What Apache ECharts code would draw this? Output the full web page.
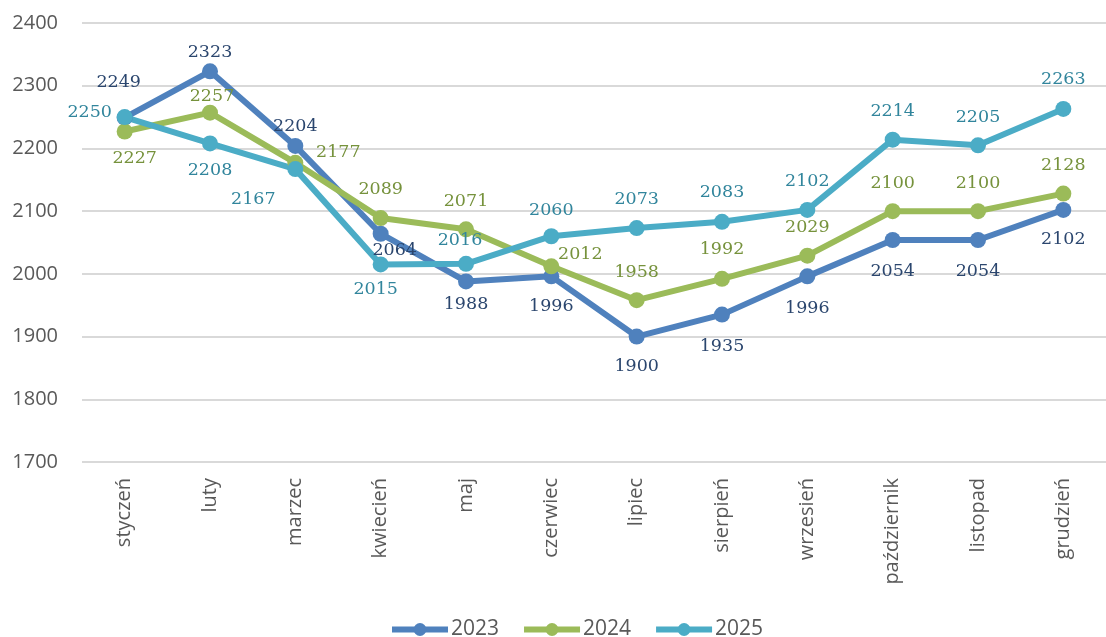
<!DOCTYPE html>
<html>
<head>
<meta charset="utf-8">
<script src="https://cdn.jsdelivr.net/npm/echarts@6/dist/echarts.min.js"></script>
<style>
html,body{margin:0;padding:0;background:#fff;}
#chart{width:1106px;height:637px;}
</style>
</head>
<body>
<div id="chart"></div>
<script>
const categories = ['styczeń','luty','marzec','kwiecień','maj','czerwiec','lipiec','sierpień','wrzesień','październik','listopad','grudzień'];
const seriesNames = ['2023','2024','2025'];
const values2023 = [2249, 2323, 2204, 2064, 1988, 1996, 1900, 1935, 1996, 2054, 2054, 2102];
const values2024 = [2227, 2257, 2177, 2089, 2071, 2012, 1958, 1992, 2029, 2100, 2100, 2128];
const values2025 = [2250, 2208, 2167, 2015, 2016, 2060, 2073, 2083, 2102, 2214, 2205, 2263];
const yTicks = [1700, 1800, 1900, 2000, 2100, 2200, 2300, 2400];

// label placement (styling): offsets in px relative to each point
const labelOffsets2023 = [[-6,-35],[0,-19],[0,-19],[14,17],[0,23],[0,30],[0,30],[0,32],[0,32],[0,31],[0,31],[0,30]];
const labelOffsets2024 = [[10,27],[2,-16],[43,-10],[0,-29],[0,-28],[29,-12],[0,-28],[0,-29],[0,-28],[0,-28],[0,-28],[0,-28]];
const labelOffsets2025 = [[-35,-5],[0,27],[-42,30],[-5,25],[-6,-23],[0,-26],[0,-29],[0,-29],[0,-28],[0,-28],[0,-28],[0,-29]];

const lineColors = ['#4F81BD', '#9BBB59', '#4BACC6'];
const labelColors = ['#2B466E', '#76923C', '#31859C'];

function buildSeries(name, vals, offs, idx) {
  return {
    name: name,
    type: 'line',
    data: vals.map((v, i) => ({
      value: v,
      label: { offset: offs[i] }
    })),
    symbol: 'circle',
    symbolSize: 16,
    lineStyle: { width: 6, color: lineColors[idx] },
    itemStyle: { color: lineColors[idx] },
    label: {
      show: true,
      position: 'inside',
      fontFamily: 'DejaVu Serif',
      fontSize: 17.5,
      color: labelColors[idx]
    },
    emphasis: { disabled: true },
    animation: false
  };
}

const chart = echarts.init(document.getElementById('chart'));
chart.setOption({
  animation: false,
  backgroundColor: '#ffffff',
  grid: { left: 82, right: -10, top: 23, bottom: 175, containLabel: false },
  legend: {
    data: seriesNames,
    top: 619,
    left: 389,
    padding: 0,
    itemWidth: 56,
    itemHeight: 16,
    itemGap: 22,
    lineStyle: { width: 6 },
    textStyle: { fontFamily: 'Open Sans', fontSize: 21, color: '#595959', padding: [0,0,0,-2] }
  },
  xAxis: {
    type: 'category',
    data: categories,
    boundaryGap: true,
    axisLine: { show: false },
    axisTick: { show: false },
    axisLabel: {
      rotate: 90,
      margin: 16,
      interval: 0,
      fontFamily: 'Open Sans',
      fontSize: 20,
      color: '#595959'
    }
  },
  yAxis: {
    type: 'value',
    min: yTicks[0],
    max: yTicks[yTicks.length - 1],
    interval: 100,
    axisLine: { show: false },
    axisTick: { show: false },
    axisLabel: {
      margin: 24,
      fontFamily: 'Open Sans',
      fontSize: 20,
      color: '#595959',
      formatter: v => String(v)
    },
    splitLine: { lineStyle: { color: '#D9D9D9', width: 2 } }
  },
  series: [
    buildSeries(seriesNames[0], values2023, labelOffsets2023, 0),
    buildSeries(seriesNames[1], values2024, labelOffsets2024, 1),
    buildSeries(seriesNames[2], values2025, labelOffsets2025, 2)
  ]
});
</script>
</body>
</html>
